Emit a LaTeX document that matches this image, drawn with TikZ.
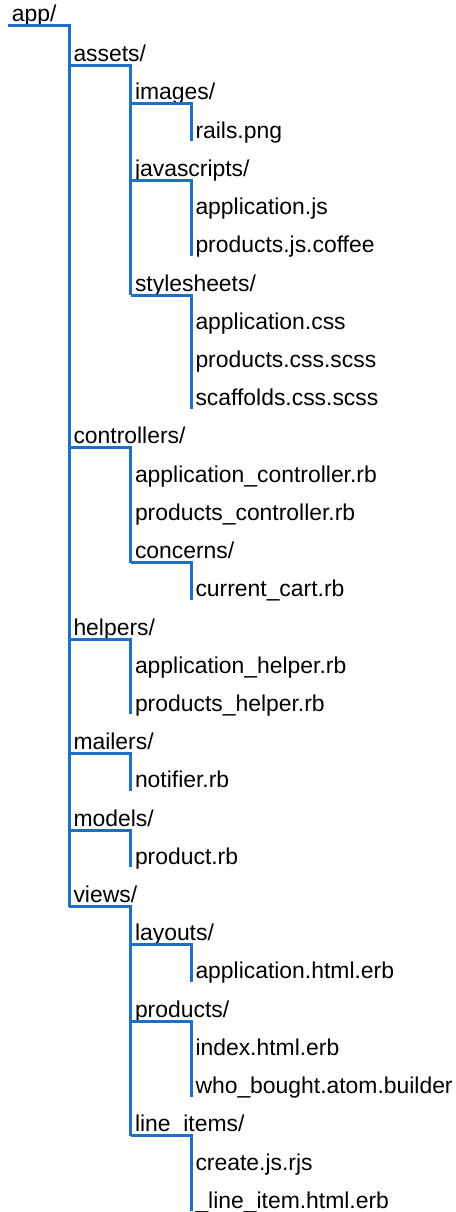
\documentclass[tikz,border=0pt]{standalone}
\usepackage{fontspec}
\setmainfont{Liberation Sans}
\usetikzlibrary{calc}
\definecolor{treeblue}{RGB}{30,111,198}
\tikzset{
  lbl/.style={anchor=base west, inner sep=0pt, outer sep=0pt, font=\fontsize{22.9}{27}\selectfont, text=black},
  treeline/.style={draw=treeblue, line width=3pt, line join=miter, line cap=butt}
}
\newcommand{\rowy}[1]{\fpeval{61.7+38.22*(#1-1)}}
\begin{document}
\begin{tikzpicture}[x=1pt,y=-1pt]
\useasboundingbox (0,0) rectangle (455,1212);
% columns of text
\def\xa{12}\def\xb{73.5}\def\xc{135}\def\xd{195.5}
\node[lbl] (app) at (\xa,21.7) {app/};
\node[lbl] (assets) at (\xb,\rowy{1}) {assets/};
\node[lbl] (images) at (\xc,\rowy{2}) {images/};
\node[lbl] (rails) at (\xd,\rowy{3}) {rails.png};
\node[lbl] (js) at (\xc,\rowy{4}) {javascripts/};
\node[lbl] (appjs) at (\xd,\rowy{5}) {application.js};
\node[lbl] (prodjs) at (\xd,\rowy{6}) {products.js.coffee};
\node[lbl] (css) at (\xc,\rowy{7}) {stylesheets/};
\node[lbl] (appcss) at (\xd,\rowy{8}) {application.css};
\node[lbl] (prodcss) at (\xd,\rowy{9}) {products.css.scss};
\node[lbl] (scaf) at (\xd,\rowy{10}) {scaffolds.css.scss};
\node[lbl] (ctrl) at (\xb,\rowy{11}) {controllers/};
\node[lbl] (appctrl) at (\xc,\rowy{12}) {application\_controller.rb};
\node[lbl] (prodctrl) at (\xc,\rowy{13}) {products\_controller.rb};
\node[lbl] (concerns) at (\xc,\rowy{14}) {concerns/};
\node[lbl] (cart) at (\xd,\rowy{15}) {current\_cart.rb};
\node[lbl] (helpers) at (\xb,\rowy{16}) {helpers/};
\node[lbl] (apphelp) at (\xc,\rowy{17}) {application\_helper.rb};
\node[lbl] (prodhelp) at (\xc,\rowy{18}) {products\_helper.rb};
\node[lbl] (mailers) at (\xb,\rowy{19}) {mailers/};
\node[lbl] (notifier) at (\xc,\rowy{20}) {notifier.rb};
\node[lbl] (models) at (\xb,\rowy{21}) {models/};
\node[lbl] (product) at (\xc,\rowy{22}) {product.rb};
\node[lbl] (views) at (\xb,\rowy{23}) {views/};
\node[lbl] (layouts) at (\xc,\rowy{24}) {layouts/};
\node[lbl] (apphtml) at (\xd,\rowy{25}) {application.html.erb};
\node[lbl] (prodv) at (\xc,\rowy{26}) {products/};
\node[lbl] (index) at (\xd,\rowy{27}) {index.html.erb};
\node[lbl] (who) at (\xd,\rowy{28}) {who\_bought.atom.builder};
\node[lbl] (li) at (\xc,\rowy{29}) {line\_items/};
\node[lbl] (create) at (\xd,\rowy{30}) {create.js.rjs};
\node[lbl] (lihtml) at (\xd,\rowy{31}) {\_line\_item.html.erb};
% tree lines: parent underline, then down to last child
\newcommand{\branch}[3]{\draw[treeline] ($(#1.base west)+(-4.5,4)$) -| ($(#2.base west)+(-4.5,#3)$);}
\branch{app}{views}{4}
\branch{assets}{css}{4}
\branch{images}{rails}{3}
\branch{js}{prodjs}{3}
\branch{css}{scaf}{3}
\branch{ctrl}{concerns}{4}
\branch{concerns}{cart}{3}
\branch{helpers}{prodhelp}{3}
\branch{mailers}{notifier}{3}
\branch{models}{product}{3}
\branch{views}{li}{4}
\branch{layouts}{apphtml}{3}
\branch{prodv}{who}{3}
\branch{li}{lihtml}{3}
\end{tikzpicture}
\end{document}
